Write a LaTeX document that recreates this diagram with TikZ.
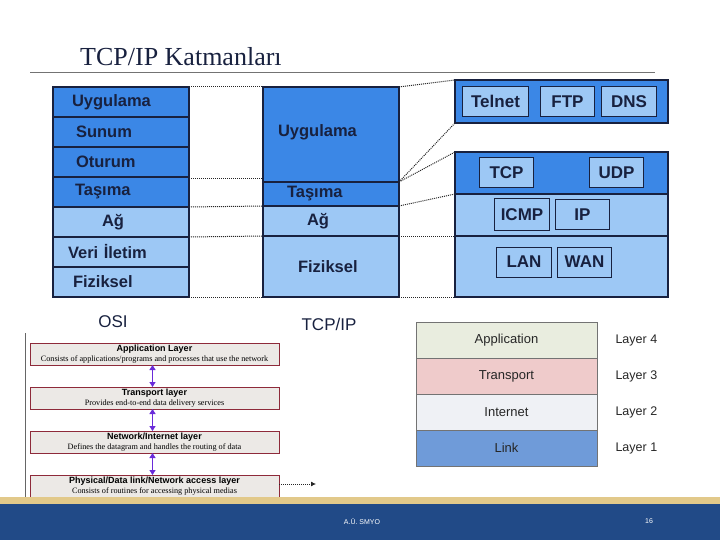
\documentclass[tikz,border=0pt]{standalone}
\usepackage{fontspec}
\setmainfont{Liberation Serif}
\setsansfont{Liberation Sans}
\usetikzlibrary{arrows.meta,positioning}

\definecolor{darkblu}{HTML}{3B87E6}
\definecolor{lightblu}{HTML}{9DC8F5}
\definecolor{inkblu}{HTML}{18213F}
\definecolor{footblu}{HTML}{214A87}
\definecolor{footgold}{HTML}{E2C98A}
\definecolor{boxred}{HTML}{8E2A3A}
\definecolor{boxgray}{HTML}{ECE9E6}
\definecolor{arrpurple}{HTML}{6A2BD9}
\definecolor{appcol}{HTML}{E9EDDF}
\definecolor{trancol}{HTML}{EFCBCB}
\definecolor{netcol}{HTML}{EFF1F5}
\definecolor{linkcol}{HTML}{6F9BD9}

\newcommand\laytitle[1]{{\sffamily\bfseries\fontsize{9}{10}\selectfont #1}}

\begin{document}
\begin{tikzpicture}[x=1pt, y=-1pt,
  osi/.style={draw=inkblu, line width=1.2pt, fill=#1, minimum width=136pt, text width=136pt,
    minimum height=30pt, inner xsep=0pt, outer sep=0pt, align=left, text=inkblu,
    font=\sffamily\bfseries\fontsize{16.5}{18}\selectfont},
  part/.style={draw=inkblu, line width=1.2pt, fill=#1, minimum width=213pt, inner sep=0pt, outer sep=0pt},
  proto/.style={draw=inkblu, line width=1pt, fill=lightblu, minimum height=30pt, inner sep=0pt,
    text=inkblu, font=\sffamily\bfseries\fontsize{17}{19}\selectfont},
  dots/.style={dash pattern=on 1pt off 1pt, line width=1pt, black!85},
  collbl/.style={text=inkblu, font=\sffamily\fontsize{17}{19}\selectfont},
  layerbox/.style={draw=boxred, line width=1pt, fill=boxgray, minimum width=249pt, minimum height=22pt,
    inner sep=0pt, outer sep=0pt, align=center, font=\fontsize{8.2}{9.8}\selectfont},
  updown/.style={{Triangle[length=5pt,width=6pt]}-{Triangle[length=5pt,width=6pt]}, line width=1.6pt, arrpurple},
  tcprow/.style={draw=black!55, line width=0.8pt, fill=#1, minimum width=181pt, minimum height=36pt,
    outer sep=0pt, text=black!85, font=\sffamily\fontsize{13}{15}\selectfont},
  lyr/.style={text=black!85, font=\sffamily\fontsize{12.5}{14}\selectfont},
  foot/.style={text=white, font=\sffamily\fontsize{7}{8}\selectfont}
]
\useasboundingbox (0,0) rectangle (720,540);

% title
\node[anchor=base west, text=inkblu, font=\fontsize{26}{30}\selectfont, inner sep=0pt] (title) at (80,66) {TCP/IP Katmanları};
\draw[black!55, line width=0.8pt] (30,72) -- (655,72);

% OSI column
\node[osi=darkblu, anchor=north west] (o1) at (53,87) {\hspace*{19pt}Uygulama};
\node[osi=darkblu, below=0pt of o1] (o2) {\hspace*{23pt}Sunum};
\node[osi=darkblu, below=0pt of o2] (o3) {\hspace*{23pt}Oturum};
\node[osi=darkblu, below=0pt of o3] (o4) {\hspace*{22pt}Taşıma};
\node[osi=lightblu, below=0pt of o4] (o5) {\hspace*{49pt}Ağ};
\node[osi=lightblu, below=0pt of o5] (o6) {\hspace*{15pt}Veri İletim};
\node[osi=lightblu, below=0pt of o6] (o7) {\hspace*{20pt}Fiziksel};

% TCP/IP column
\node[osi=darkblu, minimum height=95pt, anchor=north west] (t1) at (263,87) {\hspace*{15pt}\raisebox{7pt}{Uygulama}};
\node[osi=darkblu, minimum height=24pt, below=0pt of t1] (t2) {\hspace*{24pt}\raisebox{3pt}{Taşıma}};
\node[osi=lightblu, below=0pt of t2] (t3) {\hspace*{44pt}Ağ};
\node[osi=lightblu, minimum height=61pt, below=0pt of t3] (t4) {\hspace*{35pt}Fiziksel};

\node[collbl] (osilbl) at (113,322) {OSI};
\node[collbl] (tcplbl) at (329,324) {TCP/IP};

\draw[dots] (o1.north east) -- (t1.north west);
\draw[dots] ([yshift=-2pt]o4.north east) -- ([yshift=3pt]t2.north west);
\draw[dots] (o5.north east) -- (t3.north west);
\draw[dots] (o6.north east) -- (t4.north west);
\draw[dots] (o7.south east) -- (t4.south west);

% protocol boxes
\node[part=darkblu, minimum height=43pt, anchor=north west] (appbox) at (455,80) {};
\node[proto, minimum width=66pt, anchor=west] (telnet) at ([xshift=7pt]appbox.west) {Telnet};
\node[proto, minimum width=54pt, right=11pt of telnet] (ftp) {FTP};
\node[proto, minimum width=55pt, right=6pt of ftp] (dns) {DNS};

\node[part=darkblu, minimum height=42pt, anchor=north west] (tpart) at (455,152) {};
\node[part=lightblu, minimum height=42pt, below=0pt of tpart] (ipart) {};
\node[part=lightblu, minimum height=61pt, below=0pt of ipart] (lpart) {};
\node[proto, minimum width=54pt, anchor=west] (tcp) at ([xshift=24pt]tpart.west) {TCP};
\node[proto, minimum width=54pt, right=55pt of tcp] (udp) {UDP};
\node[proto, minimum width=55pt, minimum height=32pt, anchor=west] (icmp) at ([xshift=39pt]ipart.west) {ICMP};
\node[proto, minimum width=54pt, right=5pt of icmp] (ip) {IP};
\node[proto, minimum width=55pt, anchor=west] (lan) at ([xshift=41pt,yshift=4.5pt]lpart.west) {LAN};
\node[proto, minimum width=54pt, right=5pt of lan] (wan) {WAN};

\draw[dots] (t1.north east) -- (appbox.north west);
\draw[dots] (t1.south east) -- (appbox.south west);
\draw[dots] (t1.south east) -- (tpart.north west);
\draw[dots] (t2.south east) -- (ipart.north west);
\draw[dots] (t3.south east) -- (lpart.north west);
\draw[dots] (t4.south east) -- (lpart.south west);

% four layer model, boxes
\draw[black!60, line width=0.8pt] (25,333) -- (25,497);
\node[layerbox, anchor=north west] (b1) at (30,343) {\laytitle{Application Layer}\\Consists of applications/programs and processes that use the network};
\node[layerbox, below=22pt of b1] (b2) {\laytitle{Transport layer}\\Provides end-to-end data delivery services};
\node[layerbox, below=22pt of b2] (b3) {\laytitle{Network/Internet layer}\\Defines the datagram and handles the routing of data};
\node[layerbox, below=22pt of b3] (b4) {\laytitle{Physical/Data link/Network access layer}\\Consists of routines for accessing physical medias};
\draw[updown] ([xshift=-2pt]b1.south) -- ([xshift=-2pt]b2.north);
\draw[updown] ([xshift=-2pt]b2.south) -- ([xshift=-2pt]b3.north);
\draw[updown] ([xshift=-2pt]b3.south) -- ([xshift=-2pt]b4.north);
\coordinate (physout) at (316,484);
\draw[dots, line width=0.8pt, -{Latex[length=5pt,width=5pt]}] (b4.east |- physout) -- (physout);

% four layer model, table
\node[tcprow=appcol, anchor=north west] (r4) at (416,322) {Application};
\node[tcprow=trancol, below=0pt of r4] (r3) {Transport};
\node[tcprow=netcol, below=0pt of r3] (r2) {Internet};
\node[tcprow=linkcol, below=0pt of r2] (r1) {Link};
\node[lyr, right=15pt of r4] (l4) {Layer 4};
\node[lyr, right=15pt of r3] (l3) {Layer 3};
\node[lyr, right=15pt of r2] (l2) {Layer 2};
\node[lyr, right=15pt of r1] (l1) {Layer 1};

% footer
\fill[footgold] (0,497) rectangle (720,504);
\fill[footblu] (0,504) rectangle (720,540);
\node[foot] (footl) at (362,522) {A.Ü. SMYO};
\node[foot] (pageno) at (649,521) {16};
\end{tikzpicture}
\end{document}
